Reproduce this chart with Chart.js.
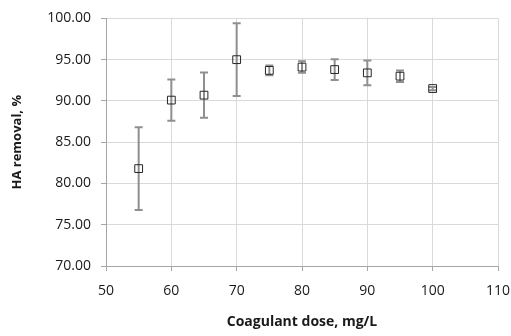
<!DOCTYPE html>
<html>
<head>
<meta charset="utf-8">
<script src="https://cdn.jsdelivr.net/npm/chart.js@4/dist/chart.umd.min.js"></script>
<style>
  html, body { margin: 0; padding: 0; background: #fff; }
  #wrap { width: 511px; height: 336px; }
</style>
</head>
<body>
<div id="wrap"><canvas id="haChart"></canvas></div>
<script>
const doses = [55, 60, 65, 70, 75, 80, 85, 90, 95, 100];
const removal = [81.8, 90.1, 90.7, 95.0, 93.7, 94.1, 93.8, 93.4, 93.0, 91.5];
const errors = [5.0, 2.5, 2.75, 4.4, 0.6, 0.7, 1.25, 1.5, 0.7, 0.2];
const xTicks = [50, 60, 70, 80, 90, 100, 110];
const yTicks = [70, 75, 80, 85, 90, 95, 100];

const FONT = "'Open Sans', 'DejaVu Sans', sans-serif";

const errorBars = {
    id: "errorBars",
    beforeDatasetsDraw(chart) {
        const ctx = chart.ctx;
        const xs = chart.scales.x;
        const ys = chart.scales.y;
        ctx.save();
        ctx.strokeStyle = "#8f8f8f";
        ctx.lineWidth = 2;
        doses.forEach((d, i) => {
            const px = xs.getPixelForValue(d);
            const top = ys.getPixelForValue(removal[i] + errors[i]);
            const bot = ys.getPixelForValue(removal[i] - errors[i]);
            ctx.beginPath();
            ctx.moveTo(px, top);
            ctx.lineTo(px, bot);
            ctx.moveTo(px - 4, top);
            ctx.lineTo(px + 4, top);
            ctx.moveTo(px - 4, bot);
            ctx.lineTo(px + 4, bot);
            ctx.stroke();
        });
        ctx.restore();
    },
};

const gridOpts = {
    color: "#d9d9d9",
    borderDash: [3, 3],
    tickColor: "#a6a6a6",
    tickBorderDash: [],
    tickLength: 5,
    lineWidth: 1,
};

new Chart(document.getElementById("haChart"), {
    type: "scatter",
    data: {
        datasets: [
            {
                data: doses.map((d, i) => ({ x: d, y: removal[i] })),
                pointStyle: "rect",
                pointRadius: 5.5,
                pointHoverRadius: 5.5,
                borderColor: "#262626",
                borderWidth: 1,
                backgroundColor: "rgba(255,255,255,0)",
            },
        ],
    },
    options: {
        responsive: true,
        maintainAspectRatio: false,
        animation: false,
        layout: { padding: { top: 10, right: 0, left: 5, bottom: 2 } },
        plugins: {
            legend: { display: false },
            tooltip: { enabled: false },
        },
        scales: {
            x: {
                type: "linear",
                min: 50,
                max: 110,
                afterBuildTicks: (axis) => {
                    axis.ticks = xTicks.map((v) => ({ value: v }));
                },
                afterFit: (axis) => {
                    axis.height = 68;
                    axis.paddingRight = 13;
                },
                grid: gridOpts,
                border: { color: "#a6a6a6", width: 1 },
                ticks: {
                    color: "#1a1a1a",
                    font: { family: FONT, size: 14 },
                    padding: 12,
                    maxRotation: 0,
                },
                title: {
                    display: true,
                    text: "Coagulant dose, mg/L",
                    color: "#1a1a1a",
                    font: { family: FONT, size: 14, weight: "bold" },
                    padding: { top: 6 },
                },
            },
            y: {
                type: "linear",
                min: 70,
                max: 100,
                afterBuildTicks: (axis) => {
                    axis.ticks = yTicks.map((v) => ({ value: v }));
                },
                afterFit: (axis) => {
                    axis.width = 101;
                },
                grid: gridOpts,
                border: { color: "#a6a6a6", width: 1 },
                ticks: {
                    color: "#1a1a1a",
                    font: { family: FONT, size: 14 },
                    padding: 10,
                    callback: (v) => v.toFixed(2),
                },
                title: {
                    display: true,
                    text: "HA removal, %",
                    color: "#1a1a1a",
                    font: { family: FONT, size: 13, weight: "bold" },
                    padding: { bottom: 2 },
                },
            },
        },
    },
    plugins: [errorBars],
});
</script>
</body>
</html>
